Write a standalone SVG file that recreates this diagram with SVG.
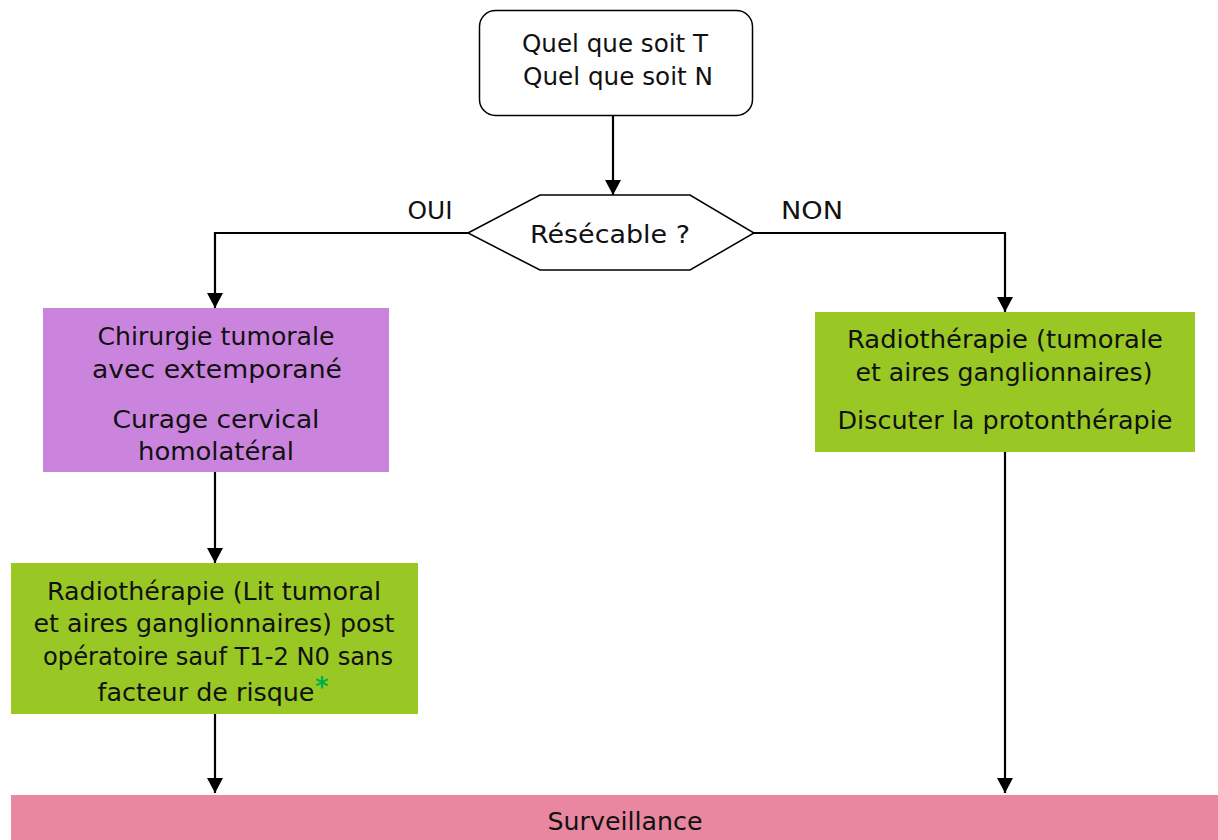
<svg xmlns="http://www.w3.org/2000/svg" width="1218" height="840" viewBox="0 0 1218 840">
<style>
text{font-family:"DejaVu Sans","Liberation Sans",Arial,sans-serif;font-size:24.5px;fill:#111;text-anchor:middle}
.c{stroke:#000;stroke-width:2.2;fill:none}
.ast{fill:#00B050;font-weight:bold;text-anchor:start;font-size:26px}
</style>
<defs>
<marker id="arr" markerWidth="15" markerHeight="16" refX="15" refY="8" orient="auto" markerUnits="userSpaceOnUse">
<path d="M0,0 L15,8 L0,16 z" fill="#000"/>
</marker>
</defs>
<rect width="1218" height="840" fill="#fff"/>
<g id="connectors">
<line class="c" x1="613" y1="116" x2="613" y2="195" marker-end="url(#arr)"/>
<polyline class="c" points="468,233 215,233 215,308" marker-end="url(#arr)"/>
<polyline class="c" points="754,233 1005,233 1005,312" marker-end="url(#arr)"/>
<line class="c" x1="215" y1="472" x2="215" y2="563" marker-end="url(#arr)"/>
<line class="c" x1="215" y1="714" x2="215" y2="793" marker-end="url(#arr)"/>
<line class="c" x1="1005" y1="452" x2="1005" y2="793" marker-end="url(#arr)"/>
</g>
<g id="start">
<rect x="479.5" y="10.5" width="273" height="105" rx="16" fill="#fff" stroke="#000" stroke-width="1.5"/>
<text x="615" y="52" textLength="186" lengthAdjust="spacingAndGlyphs">Quel que soit T</text>
<text x="618" y="85" textLength="190" lengthAdjust="spacingAndGlyphs">Quel que soit N</text>
</g>
<g id="decision">
<polygon points="468,233 540,195 690,195 754,233 690,270 540,270" fill="#fff" stroke="#000" stroke-width="1.5"/>
<text x="610" y="243" textLength="160" lengthAdjust="spacingAndGlyphs">Résécable ?</text>
</g>
<g id="label-oui"><text x="430" y="219" font-size="22" textLength="45" lengthAdjust="spacingAndGlyphs">OUI</text></g>
<g id="label-non"><text x="812" y="219" font-size="22" textLength="62" lengthAdjust="spacingAndGlyphs">NON</text></g>
<g id="chirurgie">
<rect x="43" y="308" width="346" height="164" fill="#CB84DD"/>
<text x="216" y="345" textLength="237" lengthAdjust="spacingAndGlyphs">Chirurgie tumorale</text>
<text x="217" y="378" textLength="250" lengthAdjust="spacingAndGlyphs">avec extemporané</text>
<text x="216" y="428" textLength="207" lengthAdjust="spacingAndGlyphs">Curage cervical</text>
<text x="216" y="460" textLength="156" lengthAdjust="spacingAndGlyphs">homolatéral</text>
</g>
<g id="radio-post">
<rect x="11" y="563" width="407" height="151" fill="#99C824"/>
<text x="214" y="600" textLength="334" lengthAdjust="spacingAndGlyphs">Radiothérapie (Lit tumoral</text>
<text x="214" y="632" textLength="361" lengthAdjust="spacingAndGlyphs">et aires ganglionnaires) post</text>
<text x="218" y="665" textLength="350" lengthAdjust="spacingAndGlyphs">opératoire sauf T1-2 N0 sans</text>
<text x="206" y="701" textLength="217" lengthAdjust="spacingAndGlyphs">facteur de risque</text>
<text class="ast" x="315" y="696">*</text>
</g>
<g id="radio">
<rect x="815" y="312" width="380" height="140" fill="#99C824"/>
<text x="1005" y="348" textLength="316" lengthAdjust="spacingAndGlyphs">Radiothérapie (tumorale</text>
<text x="1004" y="381" textLength="297" lengthAdjust="spacingAndGlyphs">et aires ganglionnaires)</text>
<text x="1005" y="429" textLength="335" lengthAdjust="spacingAndGlyphs">Discuter la protonthérapie</text>
</g>
<g id="surveillance">
<rect x="11" y="795" width="1207" height="45" fill="#E8879F"/>
<text x="625" y="830" textLength="155" lengthAdjust="spacingAndGlyphs">Surveillance</text>
</g>
</svg>
